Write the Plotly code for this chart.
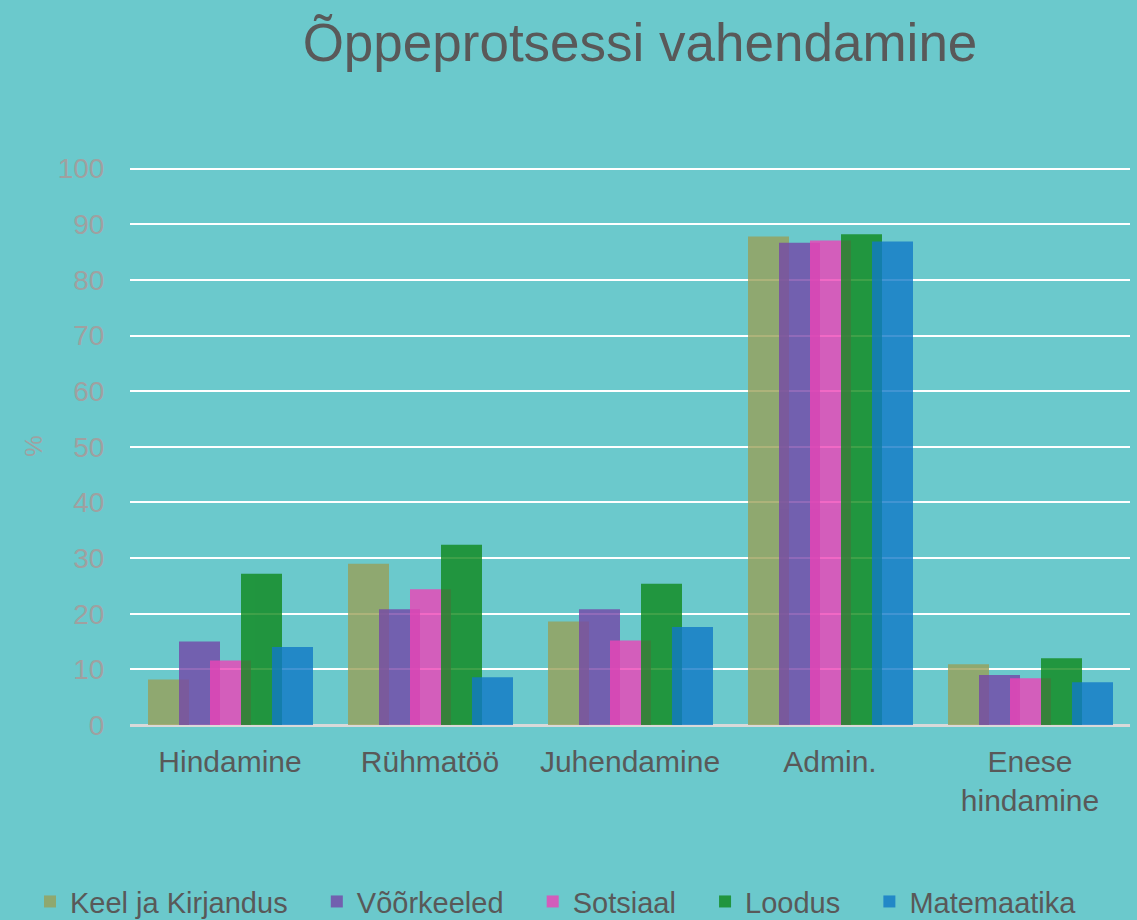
import plotly.graph_objects as go

categories = ["Hindamine", "Rühmatöö", "Juhendamine", "Admin.", "Enese<br>hindamine"]
series_names = ["Keel ja Kirjandus", "Võõrkeeled", "Sotsiaal", "Loodus", "Matemaatika"]
keel = [8.2, 29.0, 18.6, 87.8, 10.9]
voorkeeled = [15.0, 20.8, 20.8, 86.7, 9.0]
sotsiaal = [11.6, 24.4, 15.2, 87.1, 8.4]
loodus = [27.2, 32.4, 25.4, 88.2, 12.0]
matemaatika = [14.0, 8.6, 17.6, 86.9, 7.7]
y_ticks = [0, 10, 20, 30, 40, 50, 60, 70, 80, 90, 100]

series = [keel, voorkeeled, sotsiaal, loodus, matemaatika]
colors = ["rgb(152,160,89)", "rgb(116,70,168)", "rgb(238,67,183)", "rgb(15,137,28)", "rgb(17,121,199)"]

FONT = "Liberation Sans, Arial, sans-serif"
BG = "#6BC9CC"
PAD = "\u00a0" * 3

fig = go.Figure()
step = 0.155
width = 0.205
for i, (name, vals, col) in enumerate(zip(series_names, series, colors)):
    fig.add_trace(go.Bar(
        x=categories, y=vals, name=name + PAD,
        marker=dict(color=col, line=dict(width=0)),
        opacity=0.8,
        width=width, offset=-0.41 + i * step,
    ))

fig.update_layout(
    barmode="overlay",
    width=1137, height=920,
    paper_bgcolor=BG, plot_bgcolor=BG,
    margin=dict(l=130, r=7, t=167, b=195, autoexpand=False),
    font=dict(family=FONT, color="#595959"),
    title=dict(text="Õppeprotsessi vahendamine", x=640 / 1137, xanchor="center",
               y=1 - 42 / 920, yanchor="middle", yref="container",
               font=dict(size=53, color="#595959", family=FONT)),
    xaxis=dict(showgrid=False, tickfont=dict(size=30, color="#595959"),
               ticks="outside", ticklen=10, tickcolor="rgba(0,0,0,0)",
               showline=False, zeroline=False, automargin=False),
    yaxis=dict(range=[0, 100.3], tickvals=y_ticks, showgrid=True,
               gridcolor="white", gridwidth=2,
               zeroline=True, zerolinecolor="#D9D9D9", zerolinewidth=3,
               tickfont=dict(size=28, color="#A0A0A0"),
               ticks="outside", ticklen=19, tickcolor="rgba(0,0,0,0)",
               automargin=False,
               title=dict(text="%", font=dict(size=24, color="#A0A0A0"), standoff=8)),
    legend=dict(orientation="h", x=-0.100, xanchor="left", y=-0.3165, yanchor="middle",
                font=dict(size=29, color="#595959"), bgcolor="rgba(0,0,0,0)",
                traceorder="normal"),
    showlegend=True,
)

fig.write_html("out.html", config={"displayModeBar": False},
               post_script="document.body.style.margin='0px';document.body.style.overflow='hidden';")
